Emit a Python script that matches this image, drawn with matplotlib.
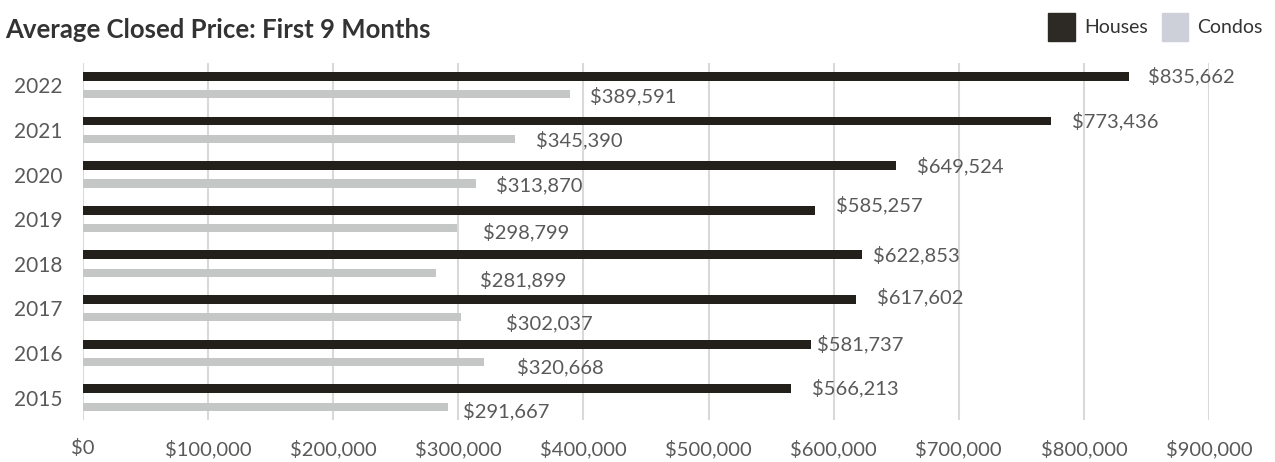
import matplotlib.pyplot as plt
from matplotlib.patches import Patch
import numpy as np

years = ["2022", "2021", "2020", "2019", "2018", "2017", "2016", "2015"]
houses = [835662, 773436, 649524, 585257, 622853, 617602, 581737, 566213]
condos = [389591, 345390, 313870, 298799, 281899, 302037, 320668, 291667]
ticks = [0, 100000, 200000, 300000, 400000, 500000, 600000, 700000, 800000, 900000]

# label offsets in pixels (Excel nudged the labels around to avoid overlaps)
house_offsets = [(19, 0), (21, 0), (21, 0), (21, 5), (11, 0), (21, 2), (6, 0), (21, 1)]
condo_offsets = [(20, -2), (21, -1), (20, -2), (26, -4), (44, -7), (45, -6), (33, -5), (15, -4)]

dark = "#231f1b"
gray = "#c5c6c6"
text_col = "#595959"

plt.rcParams['font.family'] = ['Lato', 'DejaVu Sans']

fig = plt.figure(figsize=(12.75, 4.62), dpi=100)
ax = fig.add_axes([83 / 1275, 1 - 420 / 462, (1209 - 83) / 1275, 357 / 462])

y = np.arange(len(years))[::-1]
ax.barh(y + 0.2, houses, height=0.2, color=dark, zorder=3)
ax.barh(y - 0.2, condos, height=0.18, color=gray, zorder=3)

for i in range(len(years)):
    ax.annotate("${:,}".format(houses[i]), (houses[i], y[i] + 0.2),
                xytext=house_offsets[i], textcoords="offset pixels",
                ha="left", va="center", fontsize=14.5, color=text_col,
                annotation_clip=False)
    ax.annotate("${:,}".format(condos[i]), (condos[i], y[i] - 0.2),
                xytext=condo_offsets[i], textcoords="offset pixels",
                ha="left", va="center", fontsize=14.5, color=text_col,
                annotation_clip=False)

ax.set_xlim(0, 900000)
ax.set_ylim(-0.5, 7.5)
ax.set_xticks(ticks)
ax.set_xticklabels(["${:,}".format(t) for t in ticks])
ax.set_yticks(y)
ax.set_yticklabels(years)
ax.tick_params(axis="both", length=0, colors=text_col)
ax.tick_params(axis="x", pad=14, labelsize=14.5)
ax.tick_params(axis="y", pad=15, labelsize=15)
ax.grid(axis="x", color="#d9d9d9", linewidth=1.5, zorder=0)
for s in ax.spines.values():
    s.set_visible(False)

fig.text(5 / 1275, 1 - 30 / 462, "Average Closed Price: First 9 Months",
         fontsize=18.5, fontweight="bold", color="#333333", va="center", ha="left")

handles = [Patch(color="#2d2a26", label="Houses"), Patch(color="#cdd0d9", label="Condos")]
fig.legend(handles=handles, loc="center right", bbox_to_anchor=(1263 / 1275, 1 - 27 / 462),
           ncol=2, frameon=False, fontsize=14, handlelength=1.35, handleheight=1.8,
           handletextpad=0.5, columnspacing=0.7, labelcolor="#333333",
           borderpad=0, borderaxespad=0)

fig.savefig("out.png", dpi=100)
